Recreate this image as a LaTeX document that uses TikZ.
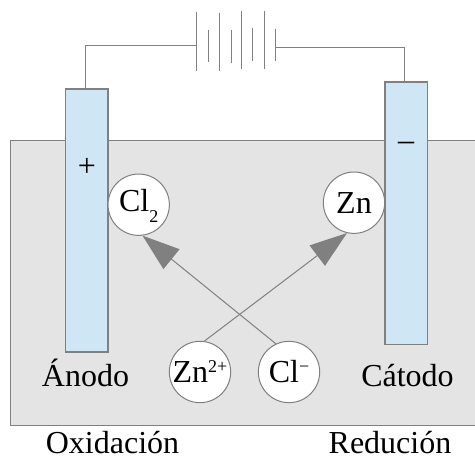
\documentclass[tikz,border=0pt]{standalone}
\usepackage{fontspec}
\setmainfont{Liberation Serif}
\usetikzlibrary{arrows.meta}
\definecolor{wire}{HTML}{808080}
\definecolor{bath}{HTML}{E4E4E4}
\definecolor{electrode}{HTML}{CFE6F5}
\newcommand{\cellsub}[1]{\raisebox{-8pt}[0pt][0pt]{\fontsize{13.5pt}{14pt}\selectfont #1}}
\newcommand{\cellsup}[1]{\raisebox{7.5pt}[0pt][0pt]{\fontsize{13.5pt}{14pt}\selectfont #1}}
\newcommand{\celltxt}[2]{\raisebox{#1}[0pt][0pt]{#2}}
\tikzset{
  x=0.75pt,y=-0.75pt,
  wireline/.style={draw=wire,line width=0.75pt},
  cell/.style={draw=wire,line width=0.75pt,fill=white,circle,minimum size=46pt,inner sep=0pt,font=\fontsize{24pt}{26pt}\selectfont},
  plate/.style={draw=wire,line width=0.9pt,fill=electrode},
  lbl/.style={anchor=base,inner sep=0pt,font=\fontsize{24pt}{26pt}\selectfont},
  flow/.style={draw=wire,line width=0.75pt,-{Triangle[length=28pt,width=19pt,fill=wire]}},
}
\begin{document}
\begin{tikzpicture}
\useasboundingbox (0,0) rectangle (475,456);
\fill[bath] (10,141) rectangle (475,425);
\draw[wireline] (475,141) -- (10,141) -- (10,425) -- (475,425);
\draw[plate] (65.5,89) rectangle (108,352);
\draw[plate] (385,82) rectangle (427.5,344.6);
\coordinate (lw) at (85,89);
\coordinate (rw) at (404,82);
\coordinate (bl) at (196,46);
\coordinate (br) at (275,48);
\draw[wireline] (lw) |- (bl);
\draw[wireline] (br) -| (rw);
\foreach \x/\a/\b in {196/12/71,208/30/62,219.5/13/71,231/30/63,241/11/69,252/28/61,264/11/69,275/29/61}
  \draw[wireline] (\x,\a) -- (\x,\b);
\node[cell] (cl2) at (138.7,204.7) {\celltxt{-5.2pt}{Cl\cellsub{2}}};
\node[cell] (zn) at (354,202.7) {\celltxt{-8pt}{Zn}};
\node[cell] (zn2) at (200,372) {\celltxt{-8pt}{Zn\cellsup{2+}}};
\node[cell] (clm) at (289,372) {\celltxt{-8pt}{Cl\cellsup{−}}};
\draw[flow] (zn2.82) -- (zn.257);
\draw[flow] (clm.115) -- (cl2.-83);
\node[lbl] (plus) at (87,177) {+};
\node[lbl] (minus) at (406,151) {–};
\node[lbl] (anodo) at (85.5,386.5) {Ánodo};
\node[lbl] (catodo) at (407.5,386) {Cátodo};
\node[lbl] (oxi) at (112.5,453) {Oxidación};
\node[lbl] (red) at (390,453) {Redución};
\end{tikzpicture}
\end{document}
